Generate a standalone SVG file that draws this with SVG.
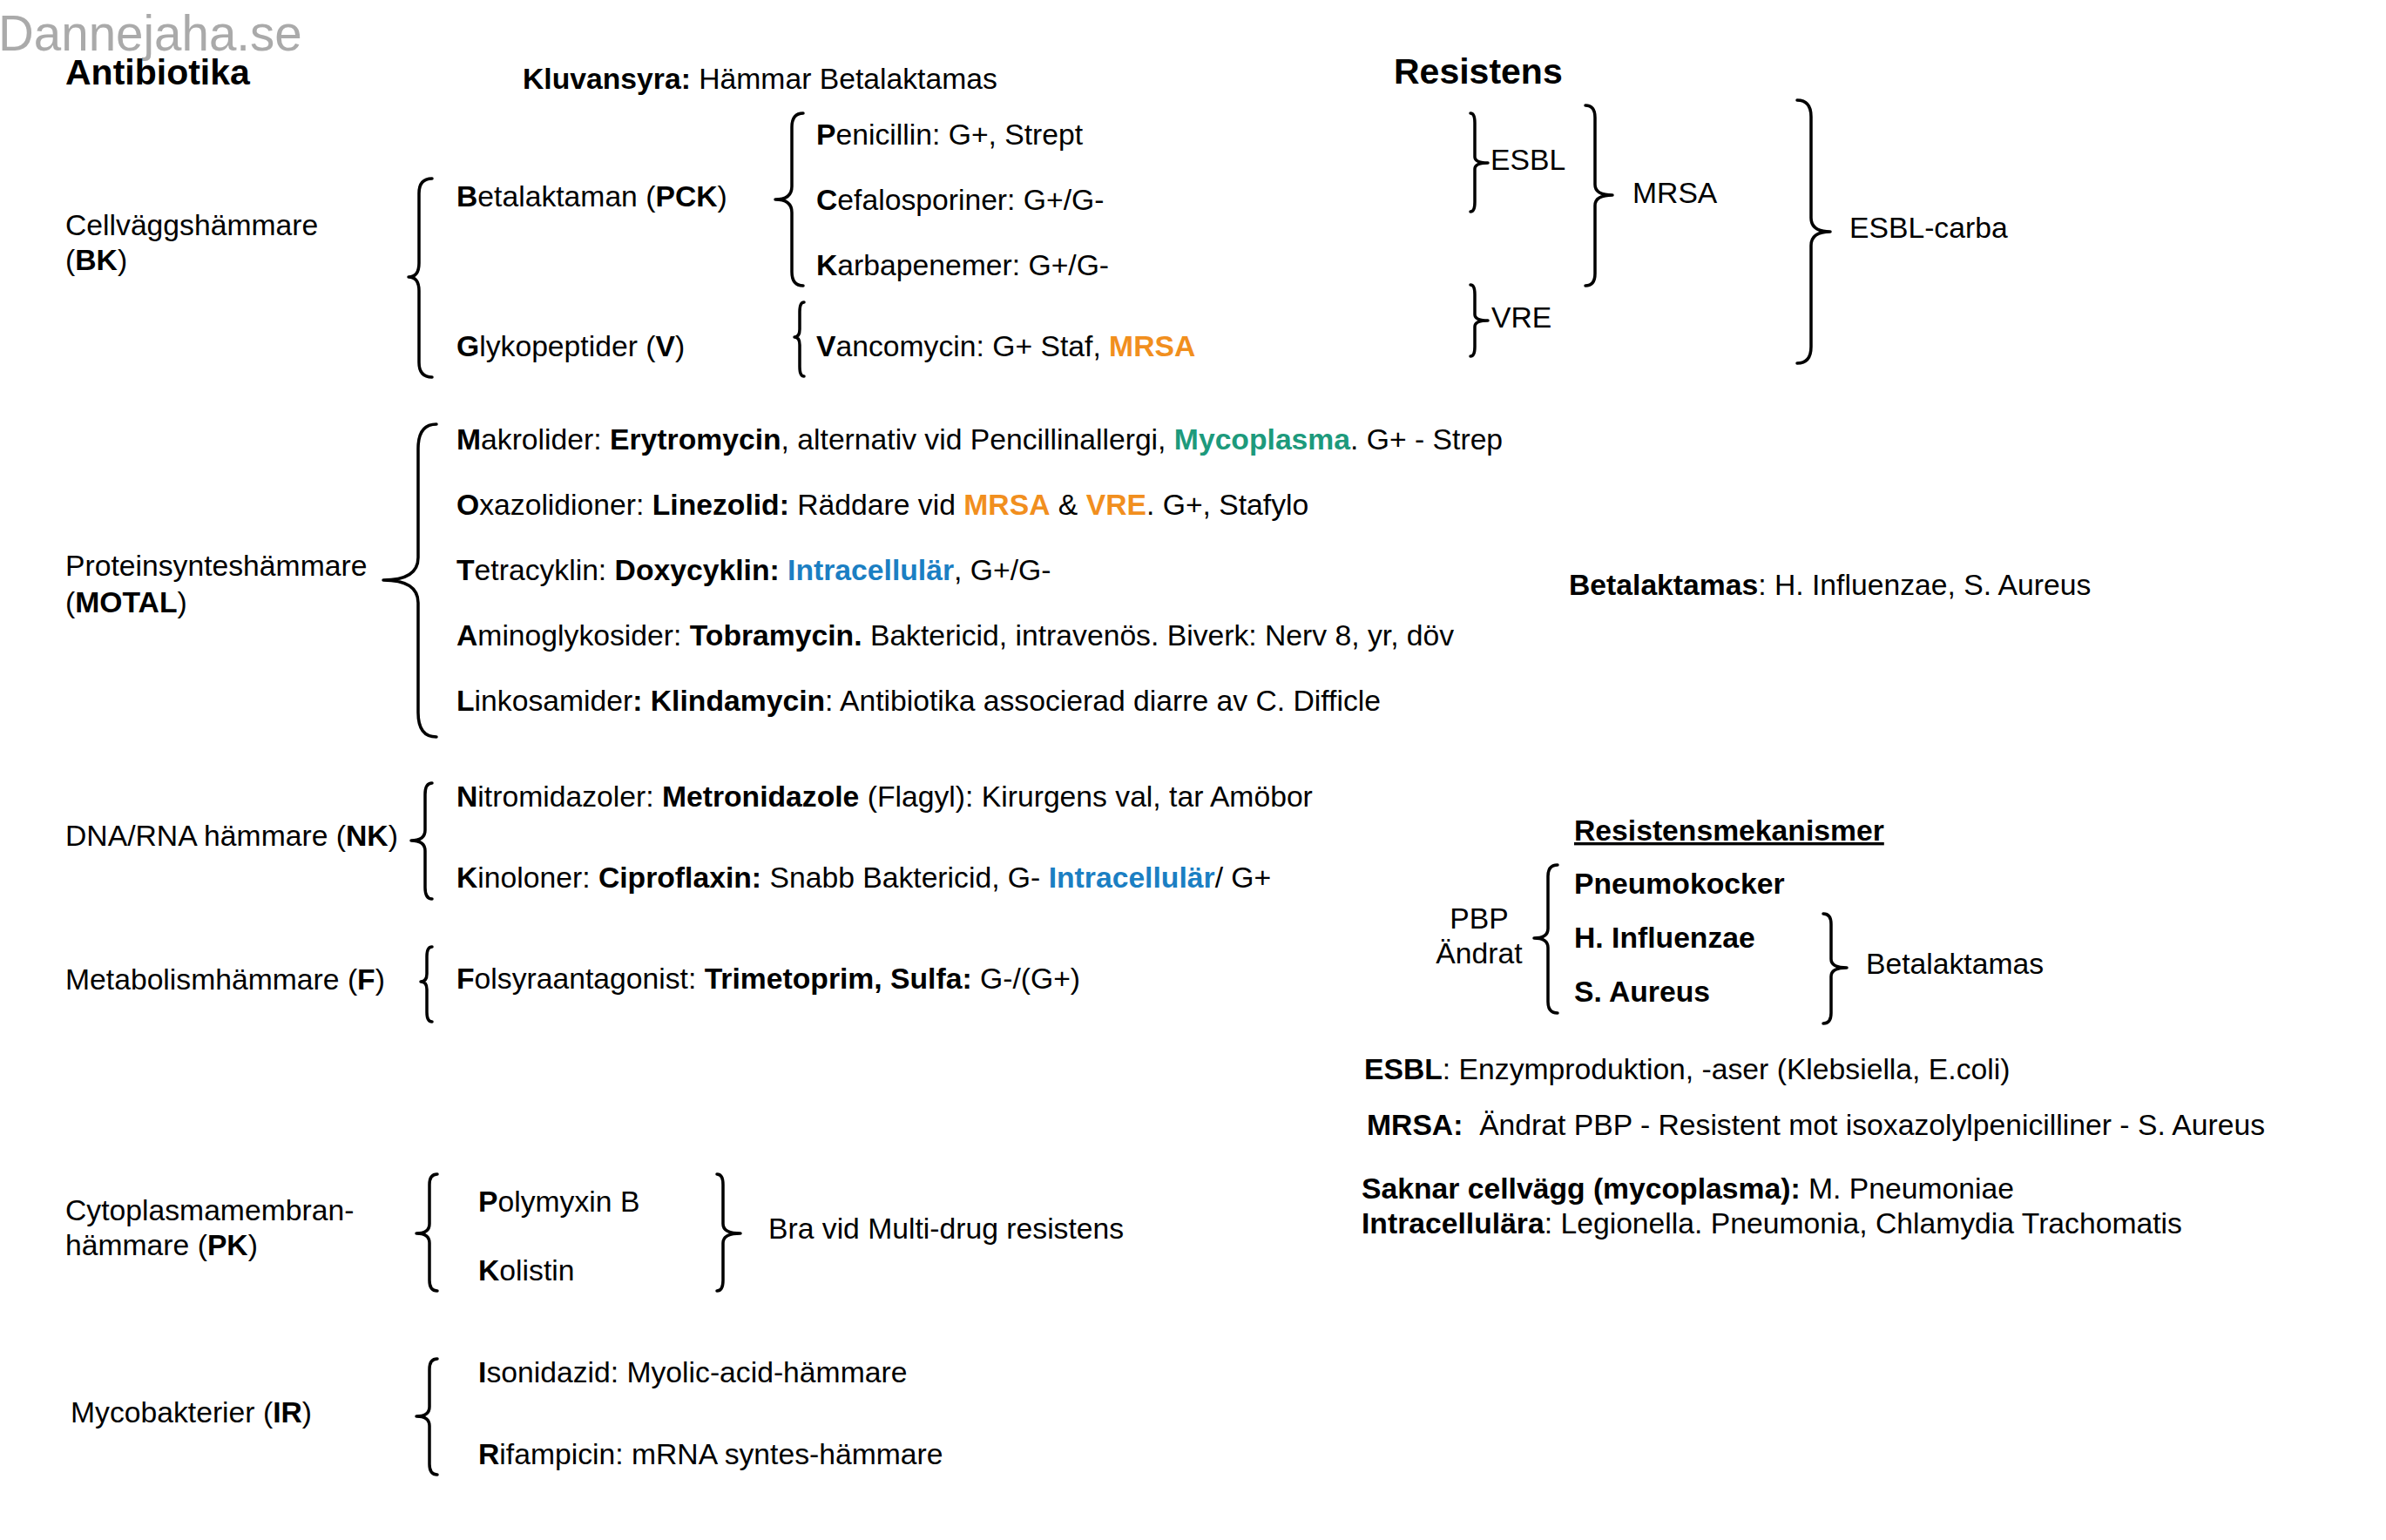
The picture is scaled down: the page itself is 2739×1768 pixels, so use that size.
<svg xmlns="http://www.w3.org/2000/svg" width="2739" height="1768" viewBox="0 0 2739 1768">
<style>
text{font-family:"Liberation Sans",Arial,sans-serif;font-size:33.7px;fill:#000;white-space:pre}
.b{font-weight:bold}
.t{font-size:41px;font-weight:bold}
.wm{font-size:56.5px;fill:#aaaaaa}
.or{fill:#f18f1e;font-weight:bold}
.gr{fill:#1d9a7c;font-weight:bold}
.bl{fill:#1b7fc3;font-weight:bold}
.br{fill:none;stroke:#000;stroke-width:3.5;stroke-linecap:round;stroke-linejoin:round}
</style>
<rect width="2739" height="1768" fill="#fff"/>
<g id="watermark"><text class="wm" x="-2" y="58">Dannejaha.se</text></g>
<g id="title-antibiotika"><text class="t" x="75" y="97">Antibiotika</text></g>
<g id="title-resistens"><text class="t" x="1600" y="96">Resistens</text></g>
<g id="kluvansyra"><text x="600" y="102"><tspan class="b">Kluvansyra:</tspan> Hämmar Betalaktamas</text></g>

<g id="bk"><text x="75" y="270">Cellväggshämmare</text><text x="75" y="310">(<tspan class="b">BK</tspan>)</text></g>
<g id="betalaktaman"><text x="524" y="237"><tspan class="b">B</tspan>etalaktaman (<tspan class="b">PCK</tspan>)</text></g>
<g id="glykopeptider"><text x="524" y="409"><tspan class="b">G</tspan>lykopeptider (<tspan class="b">V</tspan>)</text></g>
<g id="penicillin"><text x="937" y="166"><tspan class="b">P</tspan>enicillin: G+, Strept</text></g>
<g id="cefalosporiner"><text x="937" y="241"><tspan class="b">C</tspan>efalosporiner: G+/G-</text></g>
<g id="karbapenemer"><text x="937" y="316"><tspan class="b">K</tspan>arbapenemer: G+/G-</text></g>
<g id="vancomycin"><text x="937" y="409"><tspan class="b">V</tspan>ancomycin: G+ Staf, <tspan class="or">MRSA</tspan></text></g>

<g id="esbl"><text x="1711" y="195">ESBL</text></g>
<g id="vre"><text x="1712" y="376">VRE</text></g>
<g id="mrsa"><text x="1874" y="233">MRSA</text></g>
<g id="esbl-carba"><text x="2123" y="273">ESBL-carba</text></g>

<g id="motal"><text x="75" y="661">Proteinsynteshämmare</text><text x="75" y="703">(<tspan class="b">MOTAL</tspan>)</text></g>
<g id="makrolider"><text x="524" y="516"><tspan class="b">M</tspan>akrolider: <tspan class="b">Erytromycin</tspan>, alternativ vid Pencillinallergi, <tspan class="gr">Mycoplasma</tspan>. G+ - Strep</text></g>
<g id="oxazolidioner"><text x="524" y="591"><tspan class="b">O</tspan>xazolidioner: <tspan class="b">Linezolid:</tspan> Räddare vid <tspan class="or">MRSA</tspan> &amp; <tspan class="or">VRE</tspan>. G+, Stafylo</text></g>
<g id="tetracyklin"><text x="524" y="666"><tspan class="b">T</tspan>etracyklin: <tspan class="b">Doxycyklin:</tspan> <tspan class="bl">Intracellulär</tspan>, G+/G-</text></g>
<g id="aminoglykosider"><text x="524" y="741"><tspan class="b">A</tspan>minoglykosider: <tspan class="b">Tobramycin.</tspan> Baktericid, intravenös. Biverk: Nerv 8, yr, döv</text></g>
<g id="linkosamider"><text x="524" y="816"><tspan class="b">L</tspan>inkosamider<tspan class="b">:</tspan> <tspan class="b">Klindamycin</tspan>: Antibiotika associerad diarre av C. Difficle</text></g>

<g id="betalaktamas-info"><text x="1801" y="683"><tspan class="b">Betalaktamas</tspan>: H. Influenzae, S. Aureus</text></g>

<g id="nk"><text x="75" y="971">DNA/RNA hämmare (<tspan class="b">NK</tspan>)</text></g>
<g id="nitromidazoler"><text x="524" y="926"><tspan class="b">N</tspan>itromidazoler: <tspan class="b">Metronidazole</tspan> (Flagyl): Kirurgens val, tar Amöbor</text></g>
<g id="kinoloner"><text x="524" y="1019"><tspan class="b">K</tspan>inoloner: <tspan class="b">Ciproflaxin:</tspan> Snabb Baktericid, G- <tspan class="bl">Intracellulär</tspan>/ G+</text></g>
<g id="f"><text x="75" y="1136">Metabolismhämmare (<tspan class="b">F</tspan>)</text></g>
<g id="folsyra"><text x="524" y="1135"><tspan class="b">F</tspan>olsyraantagonist: <tspan class="b">Trimetoprim, Sulfa:</tspan> G-/(G+)</text></g>

<g id="resistensmekanismer"><text class="b" x="1807" y="965" text-decoration="underline">Resistensmekanismer</text></g>
<g id="pbp"><text x="1698" y="1066" text-anchor="middle">PBP</text><text x="1698" y="1106" text-anchor="middle">Ändrat</text></g>
<g id="pneumokocker"><text class="b" x="1807" y="1026">Pneumokocker</text></g>
<g id="h-influenzae"><text class="b" x="1807" y="1088">H. Influenzae</text></g>
<g id="s-aureus"><text class="b" x="1807" y="1150">S. Aureus</text></g>
<g id="betalaktamas"><text x="2142" y="1118">Betalaktamas</text></g>
<g id="esbl-info"><text x="1566" y="1239"><tspan class="b">ESBL</tspan>: Enzymproduktion, -aser (Klebsiella, E.coli)</text></g>
<g id="mrsa-info"><text x="1569" y="1303"><tspan class="b">MRSA:</tspan>  Ändrat PBP - Resistent mot isoxazolylpenicilliner - S. Aureus</text></g>
<g id="saknar"><text x="1563" y="1376"><tspan class="b">Saknar cellvägg (mycoplasma):</tspan> M. Pneumoniae</text><text x="1563" y="1416"><tspan class="b">Intracellulära</tspan>: Legionella. Pneumonia, Chlamydia Trachomatis</text></g>

<g id="pk"><text x="75" y="1401">Cytoplasmamembran-</text><text x="75" y="1441">hämmare (<tspan class="b">PK</tspan>)</text></g>
<g id="polymyxin"><text x="549" y="1391"><tspan class="b">P</tspan>olymyxin B</text></g>
<g id="kolistin"><text x="549" y="1470"><tspan class="b">K</tspan>olistin</text></g>
<g id="multidrug"><text x="882" y="1422">Bra vid Multi-drug resistens</text></g>
<g id="ir"><text x="81" y="1633">Mycobakterier (<tspan class="b">IR</tspan>)</text></g>
<g id="isonidazid"><text x="549" y="1587"><tspan class="b">I</tspan>sonidazid: Myolic-acid-hämmare</text></g>
<g id="rifampicin"><text x="549" y="1681"><tspan class="b">R</tspan>ifampicin: mRNA syntes-hämmare</text></g>

<g id="connectors">
<path class="br" d="M496,205 Q481,205 481,222 L481,302 Q481,318 469,318 Q481,318 481,334 L481,416 Q481,433 496,433"/>
<path class="br" d="M922,130 Q909,130 909,146 L909,214 Q909,229 890,229 Q909,229 909,244 L909,312 Q909,328 922,328"/>
<path class="br" d="M923,347 Q918,347 918,358 L918,378 Q918,387 912,387 Q918,387 918,396 L918,421 Q918,432 923,432"/>
<path class="br" d="M501,487 Q480,487 480,515 L480,640 Q480,666 440,666 Q480,666 480,692 L480,818 Q480,846 501,846"/>
<path class="br" d="M496,899 Q488,899 488,912 L488,953 Q488,965 472,965 Q488,965 488,977 L488,1019 Q488,1032 496,1032"/>
<path class="br" d="M496,1087 Q490,1087 490,1098 L490,1118 Q490,1127 483,1127 Q490,1127 490,1136 L490,1162 Q490,1173 496,1173"/>
<path class="br" d="M502,1348 Q493,1348 493,1360 L493,1405 Q493,1416 478,1416 Q493,1416 493,1427 L493,1470 Q493,1482 502,1482"/>
<path class="br" d="M502,1560 Q493,1560 493,1572 L493,1615 Q493,1626 478,1626 Q493,1626 493,1637 L493,1681 Q493,1693 502,1693"/>
<path class="br" d="M1788,993 Q1777,993 1777,1006 L1777,1066 Q1777,1077 1761,1077 Q1777,1077 1777,1088 L1777,1150 Q1777,1163 1788,1163"/>
<path class="br" d="M1688,130 Q1693,130 1693,141 L1693,180 Q1693,187 1708,187 Q1693,187 1693,194 L1693,232 Q1693,243 1688,243"/>
<path class="br" d="M1688,327 Q1693,327 1693,338 L1693,361 Q1693,368 1708,368 Q1693,368 1693,375 L1693,398 Q1693,409 1688,409"/>
<path class="br" d="M1820,121 Q1831,121 1831,135 L1831,212 Q1831,224 1851,224 Q1831,224 1831,236 L1831,314 Q1831,328 1820,328"/>
<path class="br" d="M2063,115 Q2079,115 2079,134 L2079,250 Q2079,266 2101,266 Q2079,266 2079,282 L2079,398 Q2079,417 2063,417"/>
<path class="br" d="M823,1348 Q830,1348 830,1360 L830,1405 Q830,1416 850,1416 Q830,1416 830,1427 L830,1470 Q830,1482 823,1482"/>
<path class="br" d="M2093,1049 Q2102,1049 2102,1061 L2102,1101 Q2102,1111 2120,1111 Q2102,1111 2102,1121 L2102,1163 Q2102,1175 2093,1175"/>
</g>
</svg>
